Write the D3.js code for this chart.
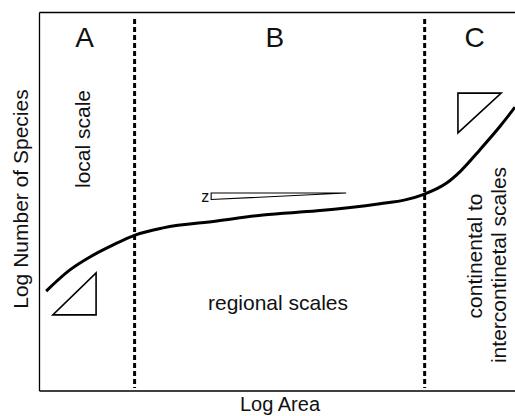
<!DOCTYPE html>
<html>
<head>
<meta charset="utf-8">
<script src="https://cdn.jsdelivr.net/npm/d3@7"></script>
<style>
  html, body { margin: 0; padding: 0; background: #fff; }
  svg { display: block; font-family: "Liberation Sans", Arial, Helvetica, sans-serif; }
</style>
</head>
<body>
<svg id="chart" width="515" height="416"></svg>
<script>
// ---- data (arbitrary log units, 0..100) ----
const logArea    = [1.4, 6.4, 10.6, 15.5, 20.1, 26.0, 37.3, 47.0, 58.4, 71.6, 76.9, 80.7, 85.7, 88.4, 92.6, 96.9, 100];
const logSpecies = [26.4, 32.0, 35.4, 38.6, 41.2, 43.1, 44.9, 46.5, 47.6, 49.5, 50.5, 51.9, 55.0, 57.9, 63.7, 70.0, 75.0];
const boundaries = [20, 81];
const zoneLabels = ["A", "B", "C"];
const zoneCenters = [9.5, 49.5, 91.5];
// slope triangles [x, y] in the same units
const slopeLow  = [[2.8, 20.1], [11.9, 20.1], [11.9, 31.2]];
const slopeMid  = [[36.1, 52.3], [64.5, 52.3], [36.1, 50.6]];
const slopeHigh = [[88.0, 78.7], [97.1, 78.7], [88.0, 68.2]];

const svg = d3.select("#chart");
const x = d3.scaleLinear().domain([0, 100]).range([39.5, 515]);
const y = d3.scaleLinear().domain([0, 100]).range([391, 12.5]);

// frame
svg.append("line").attr("x1", x(0)).attr("x2", 515).attr("y1", y(100)).attr("y2", y(100))
  .attr("stroke", "#000").attr("stroke-width", 1.3);
svg.append("line").attr("x1", x(0)).attr("x2", 515).attr("y1", y(0)).attr("y2", y(0))
  .attr("stroke", "#000").attr("stroke-width", 1.3);
svg.append("line").attr("x1", x(0)).attr("x2", x(0)).attr("y1", y(100)).attr("y2", y(0))
  .attr("stroke", "#000").attr("stroke-width", 1.3);

// boundaries
svg.selectAll(".bnd").data(boundaries).enter().append("line")
  .attr("x1", d => x(d)).attr("x2", d => x(d))
  .attr("y1", y(98.3)).attr("y2", y(0.8))
  .attr("stroke", "#000").attr("stroke-width", 3)
  .attr("stroke-dasharray", "5,3");

// zone letters
svg.selectAll(".zone").data(zoneLabels).enter().append("text")
  .attr("x", (d, i) => x(zoneCenters[i])).attr("y", 47)
  .attr("text-anchor", "middle").attr("font-size", 28).attr("fill", "#111")
  .text(d => d);

// curve
const pts = logArea.map((a, i) => [a, logSpecies[i]]);
svg.append("path").datum(pts)
  .attr("d", d3.line().x(d => x(d[0])).y(d => y(d[1])).curve(d3.curveMonotoneX))
  .attr("fill", "none").attr("stroke", "#000").attr("stroke-width", 3);

// triangles
const tri = d3.line().x(d => x(d[0])).y(d => y(d[1]));
[[slopeLow, 1.6], [slopeHigh, 1.6], [slopeMid, 1.1]].forEach(([t, w]) => {
  svg.append("path").attr("d", tri(t) + "Z")
    .attr("fill", "#fff").attr("stroke", "#000").attr("stroke-width", w)
    .attr("stroke-linejoin", "miter");
});
svg.append("text").attr("x", x(slopeMid[0][0]) - 2).attr("y", 202)
  .attr("text-anchor", "end").attr("font-size", 16).attr("fill", "#111").text("z");

// in-plot labels
svg.append("text").attr("transform", `translate(90,139) rotate(-90)`)
  .attr("text-anchor", "middle").attr("font-size", 21).attr("fill", "#111").text("local scale");
svg.append("text").attr("x", 278).attr("y", 310)
  .attr("text-anchor", "middle").attr("font-size", 21).attr("fill", "#111").text("regional scales");
svg.append("text").attr("transform", `translate(482,256) rotate(-90)`)
  .attr("text-anchor", "middle").attr("font-size", 21).attr("fill", "#111").text("continental to");
svg.append("text").attr("transform", `translate(506,265) rotate(-90)`)
  .attr("text-anchor", "middle").attr("font-size", 21).attr("fill", "#111").text("intercontinetal scales");

// axis titles
svg.append("text").attr("x", 280).attr("y", 411)
  .attr("text-anchor", "middle").attr("font-size", 20).attr("fill", "#111").text("Log Area");
svg.append("text").attr("transform", `translate(28,199) rotate(-90)`)
  .attr("text-anchor", "middle").attr("font-size", 21).attr("fill", "#111").text("Log Number of Species");
</script>
</body>
</html>
